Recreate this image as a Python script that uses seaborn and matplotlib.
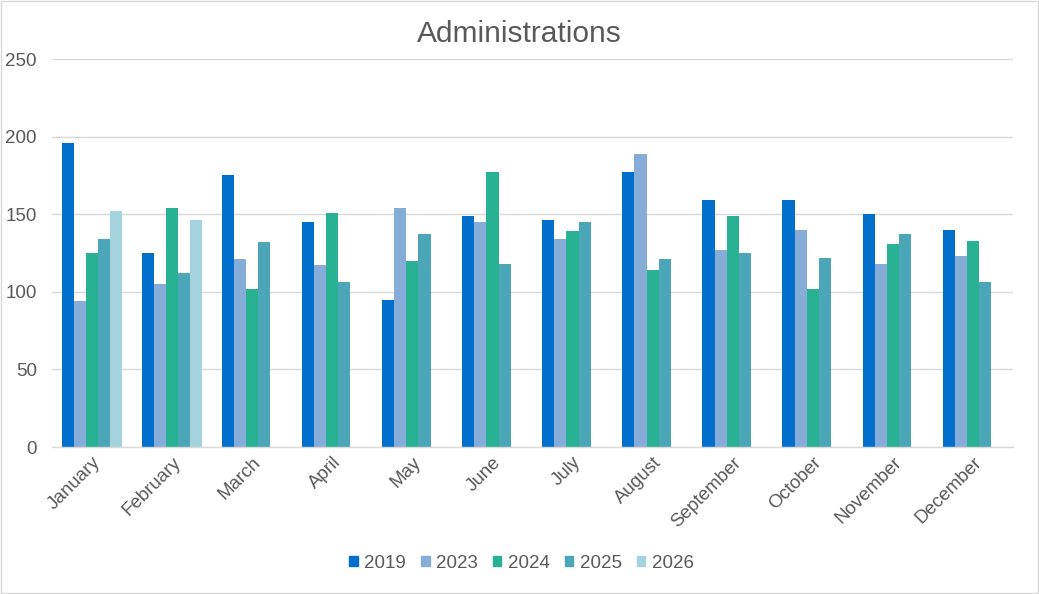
import numpy as np
import pandas as pd
import matplotlib
matplotlib.use("Agg")
import matplotlib.pyplot as plt
import matplotlib.patches as mpatches
import seaborn as sns

months = ["January", "February", "March", "April", "May", "June", "July",
          "August", "September", "October", "November", "December"]
years = ["2019", "2023", "2024", "2025", "2026"]
v2019 = [196, 125, 175, 145, 95, 149, 146, 177, 159, 159, 150, 140]
v2023 = [94, 105, 121, 117, 154, 145, 134, 189, 127, 140, 118, 123]
v2024 = [125, 154, 102, 151, 120, 177, 139, 114, 149, 102, 131, 133]
v2025 = [134, 112, 132, 106, 137, 118, 145, 121, 125, 122, 137, 106]
v2026 = [152, 146, np.nan, np.nan, np.nan, np.nan, np.nan, np.nan, np.nan, np.nan, np.nan, np.nan]
colors = ["#0070CC", "#85ADD8", "#28B192", "#4BA7B8", "#A4D2DD"]
yticks = [0, 50, 100, 150, 200, 250]

series = [v2019, v2023, v2024, v2025, v2026]
rows = []
for y, vals in zip(years, series):
    for m, v in zip(months, vals):
        rows.append({"Month": m, "Year": y, "Value": v})
df = pd.DataFrame(rows)

sns.set_theme(style="white")
plt.rcParams["font.family"] = ["Liberation Sans", "DejaVu Sans"]

fig = plt.figure(figsize=(10.39, 5.94), dpi=100)
ax = fig.add_axes([52/1039, 1-447/594, (1013-52)/1039, (447-59)/594])

sns.barplot(data=df, x="Month", y="Value", hue="Year", order=months,
            hue_order=years, palette=colors, width=0.757, ax=ax,
            linewidth=0, errorbar=None, legend=False, saturation=1)

ax.set_ylim(0, 250)
ax.set_xlim(-0.5, 11.5)
ax.set_yticks(yticks)
ax.set_yticklabels([str(t) for t in yticks])
ax.grid(axis="y", color="#D9D9D9", linewidth=1)
ax.set_axisbelow(True)
for s in ["top", "right", "left"]:
    ax.spines[s].set_visible(False)
ax.spines["bottom"].set_color("#D9D9D9")
ax.spines["bottom"].set_linewidth(1)
ax.set_xlabel("")
ax.set_ylabel("")
ax.tick_params(axis="both", length=0, colors="#595959", labelsize=13.5)
ax.tick_params(axis="y", pad=11)
ax.tick_params(axis="x", pad=5)
for lab in ax.get_xticklabels():
    lab.set_rotation(45)
    lab.set_ha("right")
    lab.set_rotation_mode("anchor")

fig.text(0.5, 1-34/594, "Administrations", ha="center", va="center",
         fontsize=21.5, color="#595959")

handles = [mpatches.Patch(color=c, label=y) for c, y in zip(colors, years)]
fig.legend(handles=handles, loc="center", bbox_to_anchor=(0.502, 1-563/594),
           ncol=5, frameon=False, fontsize=13.5, labelcolor="#595959",
           handlelength=0.45, handleheight=0.45, handletextpad=0.35,
           columnspacing=0.8)

fig.patches.append(mpatches.Rectangle((0.001, 0.001), 0.998, 0.998,
                                      transform=fig.transFigure, fill=False,
                                      edgecolor="#D9D9D9", linewidth=1))

fig.savefig("out.png", dpi=100, facecolor="white")
